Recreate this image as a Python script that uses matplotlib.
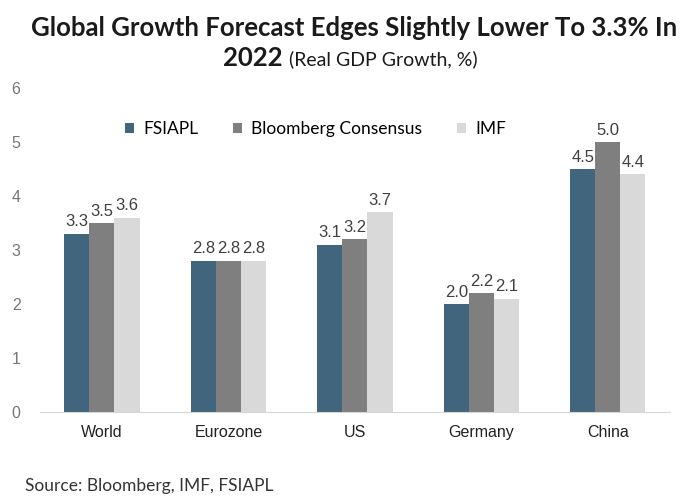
import matplotlib.pyplot as plt
import numpy as np

categories = ["World", "Eurozone", "US", "Germany", "China"]
fsiapl = [3.3, 2.8, 3.1, 2.0, 4.5]
bloomberg = [3.5, 2.8, 3.2, 2.2, 5.0]
imf = [3.6, 2.8, 3.7, 2.1, 4.4]
series_names = ["FSIAPL", "Bloomberg Consensus", "IMF"]
colors = ["#41657c", "#7f7f7f", "#d9d9d9"]

fig = plt.figure(figsize=(6.81, 4.96), dpi=100)
ax = fig.add_axes([0.0587, 0.169, 0.925, 0.654])

x = np.arange(len(categories))
w = 0.198
for i, (vals, name, c) in enumerate(zip([fsiapl, bloomberg, imf], series_names, colors)):
    bars = ax.bar(x + (i - 1) * w, vals, w, color=c, label=name)
    for b, v in zip(bars, vals):
        ax.text(b.get_x() + b.get_width() / 2, v + 0.08, f"{v:.1f}",
                ha="center", va="bottom", fontsize=12, color="#404040",
                family="Liberation Sans")

ax.set_xlim(-0.49, 4.49)
ax.set_ylim(0, 6)
ax.set_yticks(range(0, 7))
ax.set_xticks(x)
ax.set_xticklabels(categories, fontsize=11.5, family="Liberation Sans", color="#222222")
for lab in ax.get_yticklabels():
    lab.set_family("Liberation Sans")
    lab.set_fontsize(11.5)
    lab.set_color("#777777")
ax.tick_params(axis="y", length=0, pad=14)
ax.tick_params(axis="x", length=0, pad=9)
for s in ["top", "right", "left"]:
    ax.spines[s].set_visible(False)
ax.spines["bottom"].set_color("#d6d6d6")

leg = ax.legend(loc="upper center", bbox_to_anchor=(0.437, 0.945), ncol=3, frameon=False,
                handlelength=0.55, handleheight=0.55, columnspacing=2.0, handletextpad=0.5,
                prop={"family": "Lato", "size": 12.5})

fig.text(0.52, 0.944, "Global Growth Forecast Edges Slightly Lower To 3.3% In",
         ha="center", va="center", fontsize=18.5, fontweight="bold", family="Lato", color="#1a1a1a")
fig.text(0.424, 0.883, "2022 ", ha="right", va="center", fontsize=18.5, fontweight="bold",
         family="Lato", color="#1a1a1a")
fig.text(0.424, 0.880, "(Real GDP Growth, %)", ha="left", va="center", fontsize=14,
         family="Lato", color="#1a1a1a")

fig.text(0.037, 0.005, "Source: Bloomberg, IMF, FSIAPL", ha="left", va="bottom",
         fontsize=12.5, family="Lato", color="#333333")

fig.savefig("out.png", dpi=100)
